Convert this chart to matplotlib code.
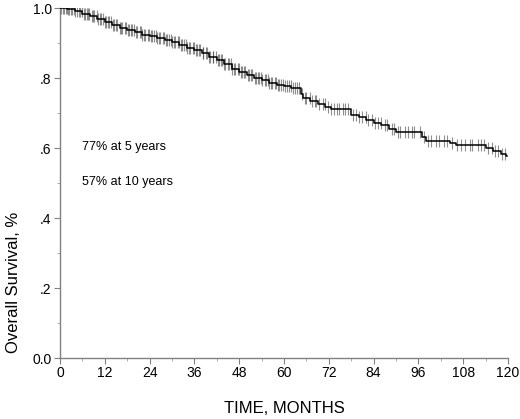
import numpy as np
import matplotlib
matplotlib.use("Agg")
import matplotlib.pyplot as plt
from matplotlib.ticker import MultipleLocator

plt.rcParams['font.family'] = ['Liberation Sans', 'DejaVu Sans']

# Kaplan-Meier steps (month, survival after the drop)
event_months = [0, 2, 4, 6, 8, 10, 12, 14, 16, 18, 20, 22, 24, 26, 28, 30,
                32, 34, 36, 38, 40, 42, 44, 46, 48, 50, 52, 54, 56, 58, 60,
                62, 64.5, 65.2, 67, 69, 71, 72.5, 78, 80, 82, 84, 86, 88, 90,
                97, 98, 104.5, 106, 114, 116, 118, 119.5]
survival = [1.0, 0.996, 0.990, 0.984, 0.977, 0.969, 0.960, 0.951, 0.943,
            0.936, 0.930, 0.924, 0.919, 0.914, 0.909, 0.902, 0.895, 0.887,
            0.879, 0.870, 0.861, 0.851, 0.840, 0.826, 0.816, 0.808, 0.800,
            0.793, 0.787, 0.781, 0.776, 0.770, 0.755, 0.744, 0.735, 0.727,
            0.718, 0.712, 0.695, 0.688, 0.680, 0.672, 0.665, 0.655, 0.645,
            0.630, 0.620, 0.613, 0.608, 0.600, 0.590, 0.583, 0.577]
end_month = 119.8

# censored patients (months)
censor_months = [0.4, 0.9, 1.2, 1.5, 1.8, 2.1, 2.4, 2.9, 3.2, 3.7, 4.1, 4.6,
                 5.0, 5.4, 5.9, 6.3, 6.6, 7.1, 7.6, 7.9, 8.5, 8.8, 9.2, 9.8,
                 10.1, 10.7, 11.0, 11.4, 12.0, 12.3, 12.9, 13.2, 13.7, 14.2,
                 14.5, 15.1, 15.4, 16.0, 16.3, 16.7, 17.3, 17.6, 18.2, 18.5,
                 19.1, 19.3, 19.9, 20.4, 20.7, 21.3, 21.6, 22.0, 22.6, 22.9,
                 23.5, 23.8, 24.4, 24.7, 25.1, 25.7, 26.0, 26.6, 26.9, 27.5,
                 27.8, 28.4, 28.6, 29.2, 29.7, 30.0, 30.6, 30.9, 31.5, 31.8,
                 32.4, 32.6, 33.2, 33.7, 34.0, 34.6, 34.9, 35.5, 35.8, 36.4,
                 36.6, 37.3, 37.6, 38.2, 38.4, 39.1, 39.4, 40.0, 40.3, 40.9,
                 41.1, 41.7, 42.2, 42.5, 43.1, 43.4, 44.0, 44.3, 44.9, 45.2,
                 45.8, 46.1, 46.7, 47.0, 47.6, 47.9, 48.5, 48.8, 49.4, 49.6,
                 50.3, 50.6, 51.2, 51.4, 52.1, 52.4, 53.0, 53.3, 53.9, 54.1,
                 54.8, 55.1, 55.7, 56.0, 56.6, 56.9, 57.5, 57.8, 58.4, 58.7,
                 59.3, 59.6, 60.3, 60.9, 61.4, 61.8, 62.5, 63.0, 63.6, 64.1,
                 64.9, 65.6, 66.0, 66.9, 67.4, 68.3, 68.7, 69.5, 70.4, 70.9,
                 71.9, 72.7, 73.3, 74.2, 74.8, 75.7, 76.3, 77.1, 78.5, 79.2,
                 80.2, 80.9, 81.9, 82.5, 83.6, 84.3, 85.3, 85.9, 87.0, 87.7,
                 88.8, 89.4, 90.6, 91.2, 92.3, 93.3, 94.2, 94.9, 96.3, 97.5,
                 98.6, 99.3, 100.7, 101.4, 102.9, 103.6, 105.1, 106.4, 107.4,
                 108.5, 109.7, 110.4, 111.9, 112.8, 113.7, 114.7, 115.8,
                 116.5, 117.3, 118.4, 119.1]

fig = plt.figure(figsize=(5.2, 4.19), dpi=100)
ax = fig.add_axes([60 / 520, 61 / 419, 448 / 520, 350 / 419])

t = np.array(event_months + [end_month])
s = np.array(survival + [survival[-1]])
ax.step(t, s, where='post', color='black', lw=1.1, zorder=3)

cm = np.array(censor_months)
idx = np.searchsorted(np.array(event_months), cm, side='right') - 1
cs = np.array(survival)[idx]
ax.plot(cm, cs, linestyle='none', marker='|', markersize=8.5,
        markeredgewidth=0.8, color='#333333', alpha=0.55, zorder=2)

ax.set_xlim(0, 120)
ax.set_ylim(0, 1.0)
ax.xaxis.set_major_locator(MultipleLocator(12))
ax.xaxis.set_minor_locator(MultipleLocator(6))
ax.yaxis.set_minor_locator(MultipleLocator(0.1))
ax.set_yticks([0, 0.2, 0.4, 0.6, 0.8, 1.0])
ax.set_yticklabels(['0.0', '.2', '.4', '.6', '.8', '1.0'])

for side in ['top', 'right']:
    ax.spines[side].set_visible(False)
for side in ['left', 'bottom']:
    ax.spines[side].set_color('#808080')
    ax.spines[side].set_linewidth(1.0)
ax.tick_params(which='major', length=4, width=0.8, color='#808080',
               labelsize=10, labelcolor='black', pad=2)
ax.tick_params(which='minor', length=2.5, width=0.6, color='#a0a0a0')

fig.text(284 / 520, 1 - 408 / 419, 'TIME, MONTHS', ha='center',
         va='center', fontsize=12)
fig.text(14 / 520, 1 - 282 / 419, 'Overall Survival, %', ha='center',
         va='center', rotation=90, fontsize=12)

fig.text(82 / 520, 1 - 147 / 419, '77% at 5 years', ha='left',
         va='center', fontsize=9)
fig.text(82 / 520, 1 - 182 / 419, '57% at 10 years', ha='left',
         va='center', fontsize=9)

fig.savefig('out.png', dpi=100)
